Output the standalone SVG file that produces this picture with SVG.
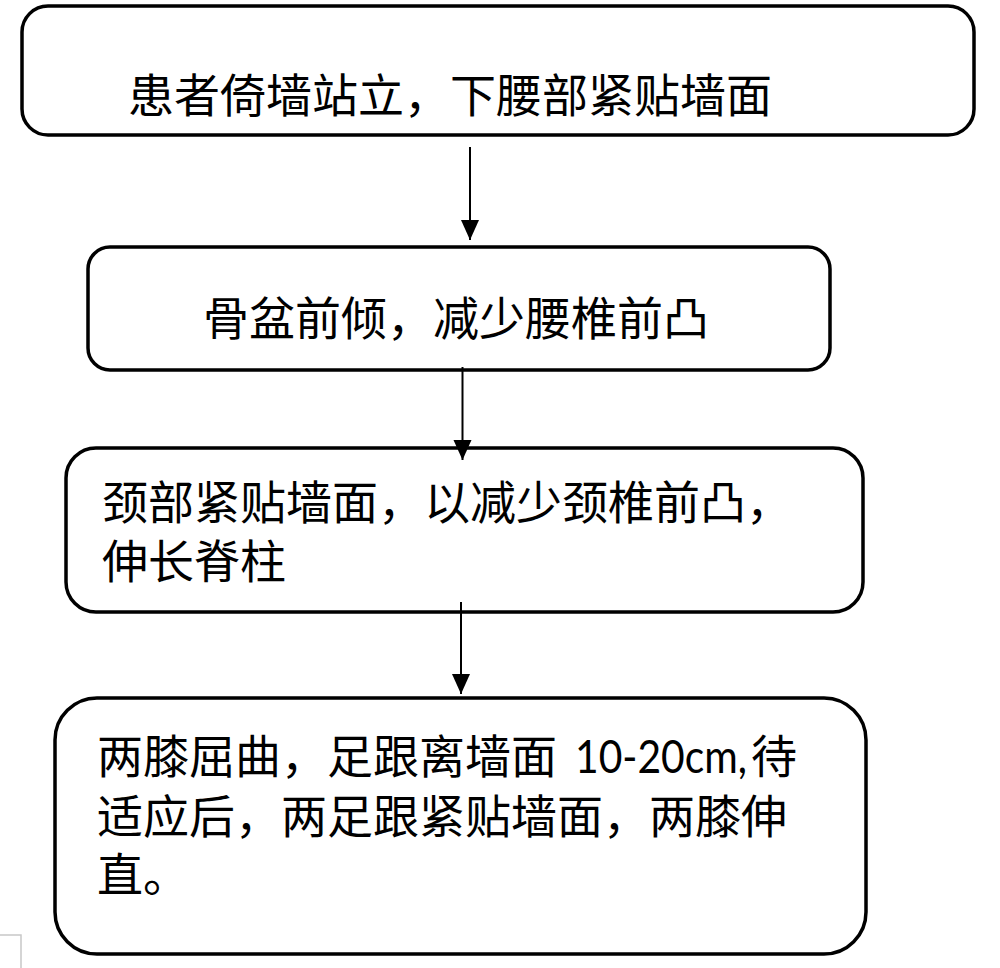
<svg xmlns="http://www.w3.org/2000/svg" width="1000" height="968" viewBox="0 0 1000 968">
<style>
.box{fill:#fff;stroke:#000;stroke-width:3.5}
.t{font-family:"Noto Sans CJK SC","Noto Sans",sans-serif;font-size:46px;fill:#000}
.lat{font-family:"Lato","Liberation Sans",sans-serif}
.c{stroke:#000;stroke-width:2;fill:none}
</style>
<defs>
<marker id="ah" markerUnits="userSpaceOnUse" markerWidth="20" markerHeight="22" refX="20" refY="9" orient="auto" viewBox="0 0 20 18">
<polygon points="0,0 20,9 0,18" fill="#000"/>
</marker>
</defs>
<rect width="1000" height="968" fill="#fff"/>
<polyline points="0,935 21,935 21,968" fill="none" stroke="#c8c8c8" stroke-width="1.5"/>
<g id="n1">
<rect class="box" x="22" y="6" width="952" height="129" rx="26"/>
<text class="t" x="128" y="112">患者倚墙站立，下腰部紧贴墙面</text>
</g>
<g id="n2">
<rect class="box" x="88" y="247" width="742" height="123" rx="22"/>
<text class="t" x="203" y="335">骨盆前倾，减少腰椎前凸</text>
</g>
<g id="n3">
<rect class="box" x="66" y="448" width="797" height="164" rx="30"/>
<text class="t" x="102" y="519">颈部紧贴墙面，以减少颈椎前凸，</text>
<text class="t" x="102" y="578">伸长脊柱</text>
</g>
<g id="n4">
<rect class="box" x="55" y="698" width="811" height="256" rx="42"/>
<text class="t" x="97" y="773">两膝屈曲，足跟离墙面<tspan class="lat" x="575" textLength="172" lengthAdjust="spacingAndGlyphs">10-20cm,</tspan><tspan x="751">待</tspan></text>
<text class="t" x="97" y="833">适应后，两足跟紧贴墙面，两膝伸</text>
<text class="t" x="97" y="891">直。</text>
</g>
<g id="connectors">
<line class="c" x1="470" y1="147" x2="470" y2="240" marker-end="url(#ah)"/>
<line class="c" x1="462.5" y1="367" x2="462.5" y2="460" marker-end="url(#ah)"/>
<line class="c" x1="461" y1="602" x2="461" y2="694" marker-end="url(#ah)"/>
</g>
</svg>
